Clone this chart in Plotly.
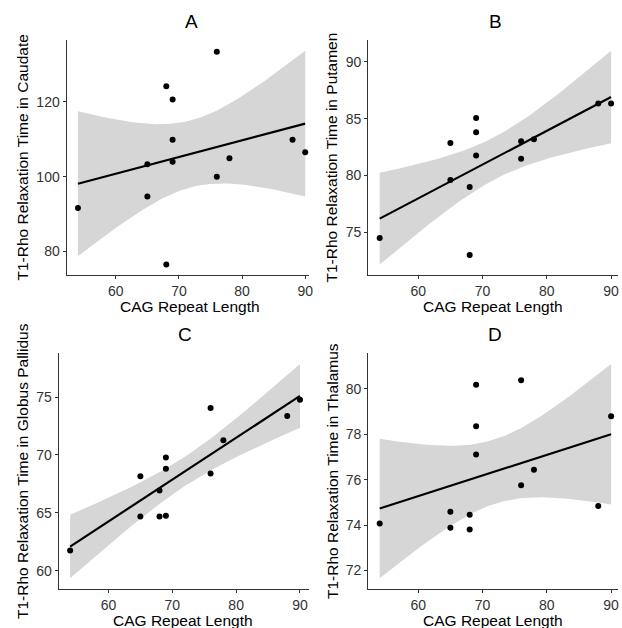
import numpy as np
import plotly.graph_objects as go

# ---- data ----
cag_repeat = [54, 65, 65, 68, 68, 69, 69, 69, 76, 76, 78, 88, 90]
caudate = [91.6, 103.3, 94.7, 124.2, 76.5, 120.6, 109.9, 104.0, 133.4, 100.0, 104.9, 109.9, 106.5]
putamen = [74.5, 82.86, 79.6, 78.98, 73.0, 85.05, 83.8, 81.75, 83.0, 81.46, 83.18, 86.33, 86.33]
globus_pallidus = [61.75, 68.15, 64.68, 66.92, 64.68, 69.77, 68.8, 64.74, 74.05, 68.39, 71.26, 73.37, 74.77]
thalamus = [74.07, 74.59, 73.88, 74.45, 73.81, 80.18, 78.35, 77.11, 80.38, 75.75, 76.44, 74.84, 78.79]

panel_letters = ["A", "B", "C", "D"]
y_labels = ["T1-Rho Relaxation Time in Caudate", "T1-Rho Relaxation Time in Putamen",
            "T1-Rho Relaxation Time in Globus Pallidus", "T1-Rho Relaxation Time in Thalamus"]
x_label = "CAG Repeat Length"
x_tick_vals = [60, 70, 80, 90]
y_tick_vals = [[80, 100, 120], [75, 80, 85, 90], [60, 65, 70, 75], [72, 74, 76, 78, 80]]

T_975_DF11 = 2.201  # t quantile for 95% CI with n-2 = 11 df

W, H = 622, 628
FONT = "Liberation Sans, Arial, sans-serif"


def lm_fit(x, y):
    x = np.asarray(x, float)
    y = np.asarray(y, float)
    n = len(x)
    b1, b0 = np.polyfit(x, y, 1)
    resid = y - (b0 + b1 * x)
    s = np.sqrt(np.sum(resid ** 2) / (n - 2))
    xm = x.mean()
    sxx = np.sum((x - xm) ** 2)
    xg = np.linspace(x.min(), x.max(), 80)
    yg = b0 + b1 * xg
    se = s * np.sqrt(1.0 / n + (xg - xm) ** 2 / sxx)
    return xg, yg, yg - T_975_DF11 * se, yg + T_975_DF11 * se


# pixel layout of each panel: (left axis x, right cut x, full right x, top y, bottom y)
panel_px = [
    (67, 311, 318.6, 40, 275.3),
    (370.5, 622, 626.7, 40, 275.3),
    (59, 311, 313.5, 353.3, 589),
    (370.5, 622, 626.7, 353.3, 589),
]
ylab_x = [23, 334, 22, 334]

series = [caudate, putamen, globus_pallidus, thalamus]

fig = go.Figure()
annotations = []
layout_axes = {}

for i, yvals in enumerate(series):
    xa = "x" if i == 0 else f"x{i+1}"
    ya = "y" if i == 0 else f"y{i+1}"
    xg, yg, lo, hi = lm_fit(cag_repeat, yvals)

    fig.add_trace(go.Scatter(
        x=np.concatenate([xg, xg[::-1]]), y=np.concatenate([lo, hi[::-1]]),
        fill="toself", fillcolor="rgba(153,153,153,0.4)", line=dict(width=0),
        mode="lines", hoverinfo="skip", showlegend=False, xaxis=xa, yaxis=ya))
    fig.add_trace(go.Scatter(
        x=xg, y=yg, mode="lines", line=dict(color="black", width=2.2),
        showlegend=False, xaxis=xa, yaxis=ya))
    fig.add_trace(go.Scatter(
        x=cag_repeat, y=yvals, mode="markers",
        marker=dict(color="black", size=6), showlegend=False, xaxis=xa, yaxis=ya,
        cliponaxis=False))

    # ranges: ggplot-style 5% expansion over data + ribbon
    xmin, xmax = min(cag_repeat), max(cag_repeat)
    xspan = xmax - xmin
    x0 = xmin - 0.05 * xspan
    x1_full = xmax + 0.05 * xspan
    left, cut, full_right, top, bottom = panel_px[i]
    x1 = x0 + (x1_full - x0) * (cut - left) / (full_right - left)
    ymin = min(min(yvals), lo.min())
    ymax = max(max(yvals), hi.max())
    yspan = ymax - ymin
    y0, y1 = ymin - 0.05 * yspan, ymax + 0.05 * yspan

    axis_common = dict(showline=True, linecolor="#333333", linewidth=1.1, ticks="outside",
                       ticklen=3, tickwidth=1.1, tickcolor="#333333", showgrid=False,
                       zeroline=False, tickfont=dict(family=FONT, size=14, color="#333333"))
    layout_axes["xaxis" if i == 0 else f"xaxis{i+1}"] = dict(
        domain=[left / W, cut / W], range=[x0, x1], tickvals=x_tick_vals,
        anchor=ya, **axis_common)
    layout_axes["yaxis" if i == 0 else f"yaxis{i+1}"] = dict(
        domain=[1 - bottom / H, 1 - top / H], range=[y0, y1], tickvals=y_tick_vals[i],
        anchor=xa, **axis_common)

    cx = (left + full_right) / 2
    annotations.append(dict(text=panel_letters[i], x=cx / W, y=1 - (top - 18.5) / H,
                            xref="paper", yref="paper", showarrow=False,
                            xanchor="center", yanchor="middle",
                            font=dict(family=FONT, size=19, color="black")))
    annotations.append(dict(text=x_label, x=(cx - 2) / W, y=1 - (bottom + 31) / H,
                            xref="paper", yref="paper", showarrow=False,
                            xanchor="center", yanchor="middle",
                            font=dict(family=FONT, size=15.5, color="black")))
    annotations.append(dict(text=y_labels[i], x=ylab_x[i] / W, y=1 - ((top + bottom) / 2) / H,
                            xref="paper", yref="paper", showarrow=False, textangle=-90,
                            xanchor="center", yanchor="middle",
                            font=dict(family=FONT, size=15.5, color="black")))

fig.update_layout(
    width=W, height=H, margin=dict(l=0, r=0, t=0, b=0),
    paper_bgcolor="white", plot_bgcolor="white",
    annotations=annotations, showlegend=False, **layout_axes)

fig.write_html("out.html", config={"displayModeBar": False},
               post_script="document.body.style.margin='0';document.body.style.overflow='hidden';")
